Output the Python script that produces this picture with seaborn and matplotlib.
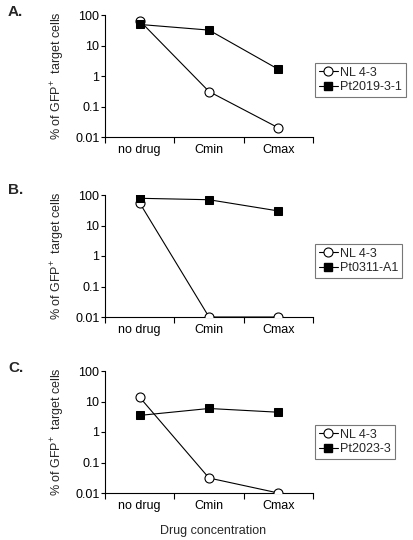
import numpy as np
import pandas as pd
import matplotlib
matplotlib.use("Agg")
import matplotlib.pyplot as plt
import seaborn as sns
from matplotlib.lines import Line2D

# data
conditions = ["no drug", "Cmin", "Cmax"]
panel_labels = ["A.", "B.", "C."]
patient_names = ["Pt2019-3-1", "Pt0311-A1", "Pt2023-3"]

nl43_a = [65, 0.31, 0.02]
pt_a = [49, 32, 1.66]
nl43_b = [55, 0.01, 0.01]
pt_b = [78, 70, 30]
nl43_c = [13.8, 0.031, 0.01]
pt_c = [3.5, 5.9, 4.45]

nl43_series = [nl43_a, nl43_b, nl43_c]
pt_series = [pt_a, pt_b, pt_c]
yticks = [0.01, 0.1, 1, 10, 100]
ytick_labels = ["0.01", "0.1", "1", "10", "100"]

sns.set_theme(style="ticks")
plt.rcParams["font.family"] = ["Liberation Sans", "DejaVu Sans"]
plt.rcParams["mathtext.fontset"] = "custom"
plt.rcParams["mathtext.rm"] = "Liberation Sans"
plt.rcParams["mathtext.it"] = "Liberation Sans:italic"
plt.rcParams["mathtext.bf"] = "Liberation Sans:bold"

W, H = 414, 540
fig = plt.figure(figsize=(W / 100, H / 100), dpi=100)

# axes top/bottom in pixel rows, and legend centre rows
axes_px = [(15, 137), (195, 317), (371, 493)]
legend_centres = [80, 261, 442]
ax_left, ax_right = 105, 313

for i in range(3):
    top, bot = axes_px[i]
    ax = fig.add_axes([ax_left / W, 1 - bot / H, (ax_right - ax_left) / W, (bot - top) / H])

    df = pd.DataFrame({
        "x": list(range(3)) * 2,
        "pct": nl43_series[i] + pt_series[i],
        "strain": ["NL 4-3"] * 3 + [patient_names[i]] * 3,
    })

    sns.lineplot(data=df[df.strain == "NL 4-3"], x="x", y="pct", ax=ax,
                 color="black", lw=0.8, marker="o", markersize=6.5,
                 markerfacecolor="white", markeredgecolor="black",
                 markeredgewidth=0.8, legend=False, zorder=3)
    sns.lineplot(data=df[df.strain == patient_names[i]], x="x", y="pct", ax=ax,
                 color="black", lw=0.8, marker="s", markersize=6,
                 markerfacecolor="black", markeredgecolor="black",
                 legend=False, zorder=4)

    ax.set_yscale("log")
    ax.set_ylim(0.01, 100)
    ax.set_xlim(-0.5, 2.5)
    ax.set_yticks(yticks)
    ax.set_yticklabels(ytick_labels)
    ax.yaxis.set_minor_locator(matplotlib.ticker.NullLocator())
    ax.set_xticks([-0.5, 0.5, 1.5, 2.5])
    ax.set_xticklabels([])
    ax.set_xticks([0, 1, 2], minor=True)
    ax.set_xticklabels(conditions, minor=True)
    ax.tick_params(axis="x", which="minor", length=0, labelsize=9, pad=5, colors="black")
    ax.tick_params(axis="x", which="major", length=4, width=0.8, direction="out", color="black")
    ax.tick_params(axis="y", length=3, width=0.8, labelsize=9, pad=1, colors="black")
    for s in ["top", "right"]:
        ax.spines[s].set_visible(False)
    for s in ["left", "bottom"]:
        ax.spines[s].set_linewidth(0.8)
        ax.spines[s].set_color("black")
    ax.set_xlabel("")
    ax.set_ylabel("% of GFP$^{+}$  target cells", fontsize=9)
    ax.yaxis.set_label_coords(-0.185, 0.5)

    handles = [
        Line2D([], [], color="black", lw=0.8, marker="o", markersize=6.5,
               markerfacecolor="white", markeredgecolor="black", markeredgewidth=0.8),
        Line2D([], [], color="black", lw=0.8, marker="s", markersize=6,
               markerfacecolor="black"),
    ]
    leg = fig.legend(handles, ["NL 4-3", patient_names[i]], loc="center left",
                     bbox_to_anchor=(315 / W, 1 - legend_centres[i] / H),
                     fontsize=9, frameon=True, fancybox=False, handlelength=1.5,
                     handletextpad=0.2, borderpad=0.3, labelspacing=0.2,
                     borderaxespad=0)
    leg.get_frame().set_edgecolor("#555555")
    leg.get_frame().set_linewidth(0.8)

    fig.text(8 / W, 1 - (12 + [0, 178, 356][i]) / H, panel_labels[i],
             fontsize=11, fontweight="bold", va="center", ha="left")

fig.text(213 / W, 1 - 531 / H, "Drug concentration", fontsize=9, ha="center", va="center")

fig.savefig("out.png", dpi=100)
